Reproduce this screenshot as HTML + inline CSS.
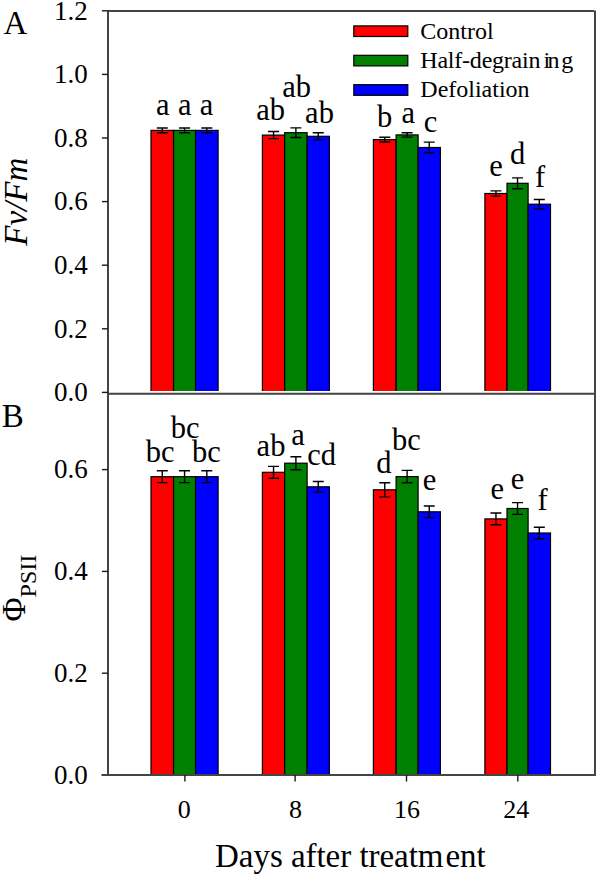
<!DOCTYPE html><html><head><meta charset="utf-8"><style>html,body{margin:0;padding:0;background:#fff;}svg{display:block;}text{font-family:'Liberation Serif',serif;fill:#000;}</style></head><body>
<svg width="597" height="876" viewBox="0 0 597 876">
<rect x="0" y="0" width="597" height="876" fill="#fff"/>
<clipPath id="ca"><rect x="0" y="0" width="597" height="391"/></clipPath>
<clipPath id="cb"><rect x="0" y="395" width="597" height="380"/></clipPath>
<g clip-path="url(#ca)">
<rect x="151.00" y="130.40" width="22.55" height="262.60" fill="#ff0000" stroke="#000" stroke-width="1.2"/>
<rect x="173.55" y="130.40" width="22.00" height="262.60" fill="#008000" stroke="#000" stroke-width="1.2"/>
<rect x="195.55" y="130.40" width="22.55" height="262.60" fill="#0000ff" stroke="#000" stroke-width="1.2"/>
<rect x="262.40" y="135.10" width="22.30" height="257.90" fill="#ff0000" stroke="#000" stroke-width="1.2"/>
<rect x="284.70" y="132.70" width="22.40" height="260.30" fill="#008000" stroke="#000" stroke-width="1.2"/>
<rect x="307.10" y="136.30" width="22.30" height="256.70" fill="#0000ff" stroke="#000" stroke-width="1.2"/>
<rect x="373.40" y="139.60" width="22.70" height="253.40" fill="#ff0000" stroke="#000" stroke-width="1.2"/>
<rect x="396.10" y="134.90" width="22.00" height="258.10" fill="#008000" stroke="#000" stroke-width="1.2"/>
<rect x="418.10" y="147.50" width="22.30" height="245.50" fill="#0000ff" stroke="#000" stroke-width="1.2"/>
<rect x="484.90" y="193.50" width="22.10" height="199.50" fill="#ff0000" stroke="#000" stroke-width="1.2"/>
<rect x="507.00" y="183.30" width="21.10" height="209.70" fill="#008000" stroke="#000" stroke-width="1.2"/>
<rect x="528.10" y="204.20" width="22.40" height="188.80" fill="#0000ff" stroke="#000" stroke-width="1.2"/>
<path d="M156.78 128.00H167.78M156.78 132.80H167.78M162.28 128.00V132.80" stroke="#000" stroke-width="1.4" fill="none"/>
<path d="M179.05 128.00H190.05M179.05 132.80H190.05M184.55 128.00V132.80" stroke="#000" stroke-width="1.4" fill="none"/>
<path d="M201.32 128.00H212.32M201.32 132.80H212.32M206.82 128.00V132.80" stroke="#000" stroke-width="1.4" fill="none"/>
<path d="M268.05 131.55H279.05M268.05 138.65H279.05M273.55 131.55V138.65" stroke="#000" stroke-width="1.4" fill="none"/>
<path d="M290.40 127.90H301.40M290.40 137.50H301.40M295.90 127.90V137.50" stroke="#000" stroke-width="1.4" fill="none"/>
<path d="M312.75 132.75H323.75M312.75 139.85H323.75M318.25 132.75V139.85" stroke="#000" stroke-width="1.4" fill="none"/>
<path d="M379.25 137.20H390.25M379.25 142.00H390.25M384.75 137.20V142.00" stroke="#000" stroke-width="1.4" fill="none"/>
<path d="M401.60 132.70H412.60M401.60 137.10H412.60M407.10 132.70V137.10" stroke="#000" stroke-width="1.4" fill="none"/>
<path d="M423.75 142.10H434.75M423.75 152.90H434.75M429.25 142.10V152.90" stroke="#000" stroke-width="1.4" fill="none"/>
<path d="M490.45 190.90H501.45M490.45 196.10H501.45M495.95 190.90V196.10" stroke="#000" stroke-width="1.4" fill="none"/>
<path d="M512.05 177.85H523.05M512.05 188.75H523.05M517.55 177.85V188.75" stroke="#000" stroke-width="1.4" fill="none"/>
<path d="M533.80 199.50H544.80M533.80 208.90H544.80M539.30 199.50V208.90" stroke="#000" stroke-width="1.4" fill="none"/>
</g>
<g clip-path="url(#cb)">
<rect x="151.00" y="476.70" width="22.55" height="300.30" fill="#ff0000" stroke="#000" stroke-width="1.2"/>
<rect x="173.55" y="476.70" width="22.00" height="300.30" fill="#008000" stroke="#000" stroke-width="1.2"/>
<rect x="195.55" y="476.70" width="22.55" height="300.30" fill="#0000ff" stroke="#000" stroke-width="1.2"/>
<rect x="262.40" y="472.30" width="22.30" height="304.70" fill="#ff0000" stroke="#000" stroke-width="1.2"/>
<rect x="284.70" y="463.20" width="22.40" height="313.80" fill="#008000" stroke="#000" stroke-width="1.2"/>
<rect x="307.10" y="486.80" width="22.30" height="290.20" fill="#0000ff" stroke="#000" stroke-width="1.2"/>
<rect x="373.40" y="489.80" width="22.70" height="287.20" fill="#ff0000" stroke="#000" stroke-width="1.2"/>
<rect x="396.10" y="476.60" width="22.00" height="300.40" fill="#008000" stroke="#000" stroke-width="1.2"/>
<rect x="418.10" y="511.80" width="22.30" height="265.20" fill="#0000ff" stroke="#000" stroke-width="1.2"/>
<rect x="484.90" y="518.90" width="22.10" height="258.10" fill="#ff0000" stroke="#000" stroke-width="1.2"/>
<rect x="507.00" y="508.50" width="21.10" height="268.50" fill="#008000" stroke="#000" stroke-width="1.2"/>
<rect x="528.10" y="533.00" width="22.40" height="244.00" fill="#0000ff" stroke="#000" stroke-width="1.2"/>
<path d="M156.78 470.80H167.78M156.78 482.60H167.78M162.28 470.80V482.60" stroke="#000" stroke-width="1.4" fill="none"/>
<path d="M179.05 470.80H190.05M179.05 482.60H190.05M184.55 470.80V482.60" stroke="#000" stroke-width="1.4" fill="none"/>
<path d="M201.32 470.80H212.32M201.32 482.60H212.32M206.82 470.80V482.60" stroke="#000" stroke-width="1.4" fill="none"/>
<path d="M268.05 466.40H279.05M268.05 478.20H279.05M273.55 466.40V478.20" stroke="#000" stroke-width="1.4" fill="none"/>
<path d="M290.40 456.70H301.40M290.40 469.70H301.40M295.90 456.70V469.70" stroke="#000" stroke-width="1.4" fill="none"/>
<path d="M312.75 481.45H323.75M312.75 492.15H323.75M318.25 481.45V492.15" stroke="#000" stroke-width="1.4" fill="none"/>
<path d="M379.25 482.75H390.25M379.25 496.85H390.25M384.75 482.75V496.85" stroke="#000" stroke-width="1.4" fill="none"/>
<path d="M401.60 470.40H412.60M401.60 482.80H412.60M407.10 470.40V482.80" stroke="#000" stroke-width="1.4" fill="none"/>
<path d="M423.75 505.95H434.75M423.75 517.65H434.75M429.25 505.95V517.65" stroke="#000" stroke-width="1.4" fill="none"/>
<path d="M490.45 513.05H501.45M490.45 524.75H501.45M495.95 513.05V524.75" stroke="#000" stroke-width="1.4" fill="none"/>
<path d="M512.05 502.65H523.05M512.05 514.35H523.05M517.55 502.65V514.35" stroke="#000" stroke-width="1.4" fill="none"/>
<path d="M533.80 527.20H544.80M533.80 538.80H544.80M539.30 527.20V538.80" stroke="#000" stroke-width="1.4" fill="none"/>
</g>
<path d="M108 10V776" stroke="#444" stroke-width="2" fill="none"/>
<path d="M595 10.5V776" stroke="#444" stroke-width="2" fill="none"/>
<path d="M107 11H594" stroke="#444" stroke-width="2" fill="none"/>
<path d="M107 393.8H596" stroke="#444" stroke-width="2" fill="none"/>
<path d="M101.5 775H596" stroke="#444" stroke-width="2" fill="none"/>
<path d="M101.9 10.80H108" stroke="#1a1a1a" stroke-width="1.4"/>
<path d="M101.9 74.40H108" stroke="#1a1a1a" stroke-width="1.4"/>
<path d="M101.9 138.00H108" stroke="#1a1a1a" stroke-width="1.4"/>
<path d="M101.9 201.60H108" stroke="#1a1a1a" stroke-width="1.4"/>
<path d="M101.9 265.20H108" stroke="#1a1a1a" stroke-width="1.4"/>
<path d="M101.9 328.80H108" stroke="#1a1a1a" stroke-width="1.4"/>
<path d="M101.9 392.40H108" stroke="#1a1a1a" stroke-width="1.4"/>
<path d="M101.9 469.60H108" stroke="#1a1a1a" stroke-width="1.4"/>
<path d="M101.9 571.40H108" stroke="#1a1a1a" stroke-width="1.4"/>
<path d="M101.9 673.20H108" stroke="#1a1a1a" stroke-width="1.4"/>
<path d="M184.90 775V781.5" stroke="#1a1a1a" stroke-width="1.4"/>
<path d="M295.10 775V781.5" stroke="#1a1a1a" stroke-width="1.4"/>
<path d="M406.50 775V781.5" stroke="#1a1a1a" stroke-width="1.4"/>
<path d="M517.80 775V781.5" stroke="#1a1a1a" stroke-width="1.4"/>
<text x="87.8" y="19.60" font-size="27" text-anchor="end">1.2</text>
<text x="87.8" y="83.20" font-size="27" text-anchor="end">1.0</text>
<text x="87.8" y="146.80" font-size="27" text-anchor="end">0.8</text>
<text x="87.8" y="210.40" font-size="27" text-anchor="end">0.6</text>
<text x="87.8" y="274.00" font-size="27" text-anchor="end">0.4</text>
<text x="87.8" y="337.60" font-size="27" text-anchor="end">0.2</text>
<text x="87.8" y="401.20" font-size="27" text-anchor="end">0.0</text>
<text x="87.8" y="478.40" font-size="27" text-anchor="end">0.6</text>
<text x="87.8" y="580.20" font-size="27" text-anchor="end">0.4</text>
<text x="87.8" y="682.00" font-size="27" text-anchor="end">0.2</text>
<text x="87.8" y="783.80" font-size="27" text-anchor="end">0.0</text>
<text x="184.20" y="817.6" font-size="26" text-anchor="middle">0</text>
<text x="295.50" y="817.6" font-size="26" text-anchor="middle">8</text>
<text x="407.00" y="817.6" font-size="26" text-anchor="middle">16</text>
<text x="516.30" y="817.6" font-size="26" text-anchor="middle">24</text>
<text x="162.70" y="114.60" font-size="30.5" text-anchor="middle">a</text>
<text x="184.80" y="114.60" font-size="30.5" text-anchor="middle">a</text>
<text x="206.40" y="114.60" font-size="30.5" text-anchor="middle">a</text>
<text x="270.60" y="120.30" font-size="30.5" text-anchor="middle">ab</text>
<text x="296.70" y="96.90" font-size="30.5" text-anchor="middle">ab</text>
<text x="319.50" y="122.50" font-size="30.5" text-anchor="middle">ab</text>
<text x="384.50" y="127.20" font-size="30.5" text-anchor="middle">b</text>
<text x="408.30" y="123.40" font-size="30.5" text-anchor="middle">a</text>
<text x="430.40" y="131.60" font-size="30.5" text-anchor="middle">c</text>
<text x="496.00" y="175.60" font-size="30.5" text-anchor="middle">e</text>
<text x="517.50" y="163.60" font-size="30.5" text-anchor="middle">d</text>
<text x="540.00" y="186.60" font-size="30.5" text-anchor="middle">f</text>
<text x="160.20" y="462.00" font-size="30.5" text-anchor="middle">bc</text>
<text x="185.20" y="438.20" font-size="30.5" text-anchor="middle">bc</text>
<text x="206.50" y="462.00" font-size="30.5" text-anchor="middle">bc</text>
<text x="271.00" y="455.80" font-size="30.5" text-anchor="middle">ab</text>
<text x="298.00" y="445.00" font-size="30.5" text-anchor="middle">a</text>
<text x="321.70" y="465.30" font-size="30.5" text-anchor="middle">cd</text>
<text x="383.90" y="473.30" font-size="30.5" text-anchor="middle">d</text>
<text x="406.50" y="450.00" font-size="30.5" text-anchor="middle">bc</text>
<text x="429.40" y="489.80" font-size="30.5" text-anchor="middle">e</text>
<text x="497.20" y="499.20" font-size="30.5" text-anchor="middle">e</text>
<text x="517.50" y="488.90" font-size="30.5" text-anchor="middle">e</text>
<text x="542.70" y="510.20" font-size="30.5" text-anchor="middle">f</text>
<text x="3.5" y="33.8" font-size="33">A</text>
<text x="1.8" y="426.8" font-size="33">B</text>
<text x="215.0" y="867" font-size="33" textLength="228.5" lengthAdjust="spacing">Days after treatm</text>
<text x="445.4" y="867" font-size="33">ent</text>
<text transform="translate(27.4,201.7) rotate(-90)" x="0" y="0" font-size="33" font-style="italic" text-anchor="middle">Fv/Fm</text>
<text transform="translate(25.3,621.5) rotate(-90)" x="0" y="0" font-size="33">&#934;<tspan font-size="24" dy="10.6">PSII</tspan></text>
<rect x="353.8" y="25.90" width="54" height="10.6" fill="#ff0000" stroke="#000" stroke-width="1.2"/>
<text x="420.3" y="38.60" font-size="24">Control</text>
<rect x="353.8" y="55.30" width="54" height="10.6" fill="#008000" stroke="#000" stroke-width="1.2"/>
<text x="420.3" y="68.00" font-size="24" textLength="120.2" lengthAdjust="spacing">Half-degrain</text>
<text x="543.5 547.5" y="68.00" font-size="24">in</text>
<text x="561.2" y="68.00" font-size="24">g</text>
<rect x="353.8" y="84.70" width="54" height="10.6" fill="#0000ff" stroke="#000" stroke-width="1.2"/>
<text x="420.3" y="97.40" font-size="24">Defoliation</text>
</svg></body></html>
